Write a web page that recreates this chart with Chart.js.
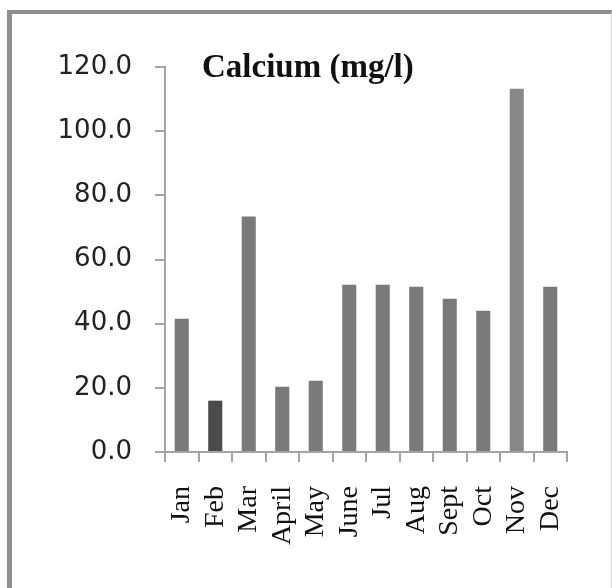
<!DOCTYPE html>
<html>
<head>
<meta charset="utf-8">
<script src="https://cdn.jsdelivr.net/npm/chart.js@4.4.1/dist/chart.umd.min.js"></script>
<style>
  html, body { margin: 0; padding: 0; width: 612px; height: 588px; overflow: hidden; background: #fff; }
  #frame { position: absolute; left: 7px; top: 10px; width: 605px; height: 640px; box-sizing: border-box;
           border-top: 4px solid #8e8e8e; border-left: 5px solid #8e8e8e; border-right: 1px solid #d4d4d4; }
  #c { position: absolute; left: 0; top: 0; }
</style>
</head>
<body>
<div id="frame"></div>
<canvas id="c" width="612" height="588"></canvas>
<script>
const chartTitle = "Calcium (mg/l)";
const months = ["Jan", "Feb", "Mar", "April", "May", "June", "Jul", "Aug", "Sept", "Oct", "Nov", "Dec"];
const calcium = [41.5, 16.0, 73.4, 20.3, 22.2, 52.1, 52.1, 51.5, 47.8, 44.0, 113.2, 51.5];
const barColors = ["#7a7a7a", "#4b4b4b", "#7a7a7a", "#7a7a7a", "#7a7a7a", "#7a7a7a",
                   "#7a7a7a", "#7a7a7a", "#7a7a7a", "#7a7a7a", "#888888", "#7a7a7a"];
const yMin = 0, yMax = 120, yStep = 20;

const axisColor = "#a4a4a4";

const titlePlugin = {
  id: "innerTitle",
  afterDraw(chart) {
    const ctx = chart.ctx, a = chart.chartArea;
    ctx.save();
    ctx.font = 'bold 33px "Liberation Serif", "Times New Roman", serif';
    ctx.fillStyle = "#111";
    ctx.textAlign = "left";
    ctx.textBaseline = "alphabetic";
    ctx.fillText(chartTitle, a.left + 37, a.top + 10);
    ctx.restore();
  }
};

new Chart(document.getElementById("c"), {
  type: "bar",
  data: {
    labels: months,
    datasets: [{
      data: calcium,
      backgroundColor: barColors,
      borderWidth: 0,
      barPercentage: 0.42,
      categoryPercentage: 1.0
    }]
  },
  options: {
    responsive: false,
    animation: false,
    layout: { padding: { left: 0, right: 45, top: 67, bottom: 0 } },
    plugins: { legend: { display: false }, tooltip: { enabled: false }, title: { display: false } },
    scales: {
      x: {
        grid: { display: true, drawOnChartArea: false, drawTicks: true, tickLength: 10, color: axisColor, lineWidth: 2, offset: true },
        border: { display: true, color: axisColor, width: 2 },
        ticks: {
          minRotation: 90, maxRotation: 90, autoSkip: false, padding: 24,
          color: "#111",
          font: { family: '"Liberation Serif", "Times New Roman", serif', size: 28 }
        },
        afterFit(scale) { scale.height = 136; }
      },
      y: {
        min: yMin, max: yMax,
        grid: { display: true, drawOnChartArea: false, drawTicks: true, tickLength: 10, color: axisColor, lineWidth: 2 },
        border: { display: true, color: axisColor, width: 2 },
        ticks: {
          stepSize: yStep, padding: 23, color: "#222",
          font: { family: '"DejaVu Sans", Verdana, sans-serif', size: 26 },
          callback: (v) => Number(v).toFixed(1)
        },
        afterFit(scale) { scale.width = 165; }
      }
    }
  },
  plugins: [titlePlugin]
});
</script>
</body>
</html>
